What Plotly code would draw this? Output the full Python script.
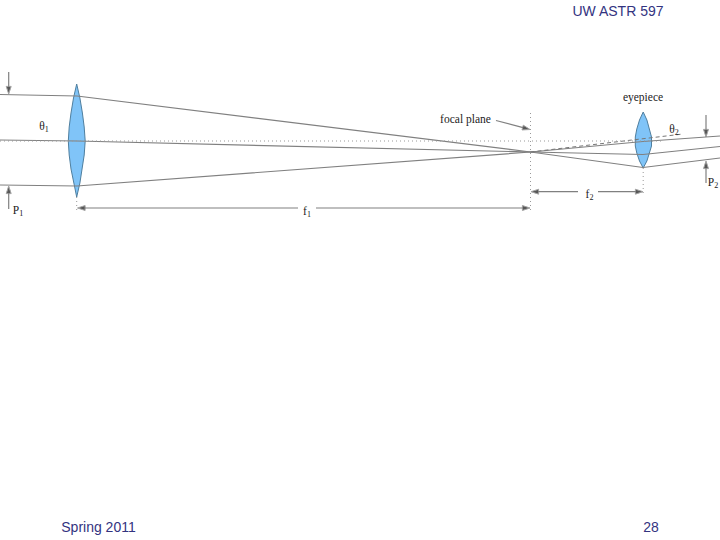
import plotly.graph_objects as go

# everything, in page pixels
ray_top_x = [0, 77, 530.5, 643, 720]
ray_top_y = [94.5, 96, 152, 167.5, 158]
ray_mid_x = [0, 77, 530.5, 643, 720]
ray_mid_y = [140, 141, 152, 154.5, 146.5]
ray_low_x = [0, 77, 530.5, 643, 720]
ray_low_y = [185, 186, 152, 141.5, 136]

dash_x = [530.5, 683]
dash_y = [152, 134]
axis_x = [0, 662]
axis_y = [141, 141]

lens1_x = [76.7, 73.5, 71, 69.2, 68.3, 69.2, 71, 73.5, 76.7, 79.9, 82.4, 84.2, 85.2, 84.2, 82.4, 79.9, 76.7]
lens1_y = [84, 98, 113, 127, 141, 155, 169, 183, 197, 183, 169, 155, 141, 127, 113, 98, 84]
lens2_x = [643.2, 639.5, 636.8, 635.3, 635.3, 636.8, 639.5, 643.2, 646.9, 649.6, 651.5, 651.5, 649.6, 646.9, 643.2]
lens2_y = [112, 120, 129, 137, 146, 153, 161, 168, 161, 153, 146, 137, 129, 120, 112]

guides_x = [[76.7, 76.7], [530.5, 530.5], [643.2, 643.2]]
guides_y = [[197, 213], [113, 213], [168, 195]]

# tail x, tail y, head x, head y
arrows = [
    (8.7, 72, 8.7, 94),
    (8.7, 209, 8.7, 186),
    (706, 115, 706, 137),
    (706, 183, 706, 161),
    (496, 120.5, 530, 129.5),
    (298, 208, 77.5, 208),
    (316, 208, 530, 208),
    (578, 191.7, 531, 191.7),
    (598, 191.7, 643, 191.7),
]

labels = ["θ<sub>1</sub>", "P<sub>1</sub>", "f<sub>1</sub>", "focal plane", "eyepiece", "θ<sub>2</sub>", "f<sub>2</sub>", "P<sub>2</sub>"]
label_x = [44, 18, 307, 465.5, 643, 674, 589.5, 713]
label_y = [127, 211, 212, 120, 98, 130, 195, 183]

header_text = ["UW ASTR 597", "Spring 2011", "28"]
header_x = [618, 98.5, 651]
header_y = [12, 528, 528]

fig = go.Figure()

fig.add_trace(go.Scatter(x=lens1_x, y=lens1_y, mode="lines", fill="toself", fillcolor="#80c4f8",
                         line=dict(color="#4f7f9f", width=1)))
fig.add_trace(go.Scatter(x=lens2_x, y=lens2_y, mode="lines", fill="toself", fillcolor="#80c4f8",
                         line=dict(color="#4f7f9f", width=1)))

for rx, ry in [(ray_top_x, ray_top_y), (ray_mid_x, ray_mid_y), (ray_low_x, ray_low_y)]:
    fig.add_trace(go.Scatter(x=rx, y=ry, mode="lines", line=dict(color="#808080", width=1.2)))

fig.add_trace(go.Scatter(x=dash_x, y=dash_y, mode="lines", line=dict(color="#777777", width=1, dash="4px,3px")))
fig.add_trace(go.Scatter(x=axis_x, y=axis_y, mode="lines", line=dict(color="#999999", width=1, dash="1px,3px")))

for gx, gy in zip(guides_x, guides_y):
    fig.add_trace(go.Scatter(x=gx, y=gy, mode="lines", line=dict(color="#999999", width=1, dash="1px,3px")))

for tx, ty, hx, hy in arrows:
    fig.add_trace(go.Scatter(x=[tx, hx], y=[ty, hy], mode="lines+markers",
                             line=dict(color="#808080", width=1.2),
                             marker=dict(symbol="arrow", angleref="previous", size=[0, 8], color="#111111")))

fig.add_trace(go.Scatter(x=label_x, y=label_y, mode="text", text=labels, textposition="middle center",
                         textfont=dict(family="Liberation Serif", size=11.5, color="#222222")))
fig.add_trace(go.Scatter(x=header_x, y=header_y, mode="text", text=header_text, textposition="middle center",
                         textfont=dict(family="Liberation Sans", size=14, color="#33337f")))

fig.update_layout(
    width=720,
    height=540,
    margin=dict(l=0, r=0, t=0, b=0),
    plot_bgcolor="white",
    paper_bgcolor="white",
    showlegend=False,
)
fig.update_xaxes(range=[0, 720], visible=False)
fig.update_yaxes(range=[540, 0], visible=False)

# page body has a default margin that shifts the plot
fig.write_html("out.html", config={"displayModeBar": False},
               post_script="document.body.style.margin='0';")
